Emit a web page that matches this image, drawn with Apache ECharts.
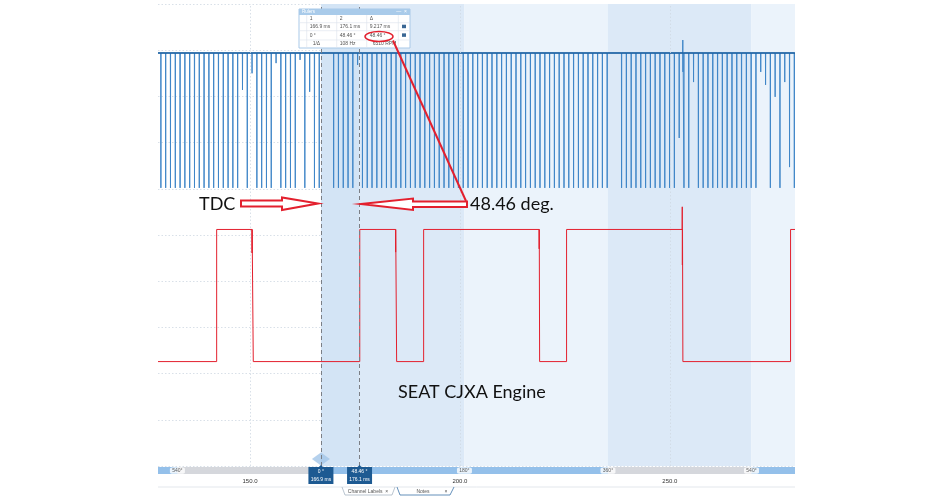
<!DOCTYPE html>
<html>
<head>
<meta charset="utf-8">
<script src="https://cdn.jsdelivr.net/npm/echarts@6/dist/echarts.min.js"></script>
<style>html,body{margin:0;padding:0;background:#fff}#c{width:952px;height:500px}</style>
</head>
<body>
<div id="c"></div>
<script>
// ---- data ----
const timeTicks = [150, 200, 250];               // ms
const crankBase = 8.94, crankLow = 6.02;          // blue trace levels (grid units)
const crankTeeth = [128.79,129.93,131.07,132.22,133.36,134.50,135.65,136.79,137.93,139.07,140.22,141.36,142.50,143.65,144.79,145.93,147.07,148.22,149.36,150.50,151.65,152.79,153.93,155.07,156.22,157.36,158.50,159.65,160.79,161.93,163.07,164.22,165.36,166.50,
169.93,171.07,172.22,173.36,174.50,175.64,176.79,177.93,179.07,180.22,181.36,182.50,183.64,184.79,185.93,187.07,188.22,189.36,190.50,191.64,192.79,193.93,195.07,196.22,197.36,198.50,199.64,200.79,201.93,203.07,204.22,205.36,206.50,207.64,208.79,209.93,211.07,212.22,213.36,214.50,215.64,216.79,217.93,219.07,220.22,221.36,222.50,223.64,224.79,225.93,227.07,228.22,229.36,230.50,231.64,232.79,233.93,235.07,
238.50,239.64,240.79,241.93,243.07,244.22,245.36,246.50,247.64,248.79,249.93,251.07,252.22,253.36,254.50,255.64,256.79,257.93,259.07,260.22,261.36,262.50,263.64,264.79,265.93,267.07,268.22,269.36,270.50,271.64,272.79,273.93,275.07,276.22,277.36,278.50,279.64];
const crankShort = [[148.22,8.14],[150.50,8.5],[156.22,8.72],[161.93,8.79],[164.22,8.1],[175.64,8.68],[252.22,7.1],[255.64,8.31],[271.64,8.53],[272.79,8.25],[275.07,7.99],[277.36,8.31],[278.50,6.47]];
const crankGlitch = [[253.05,8.94],[253.08,9.22],[253.12,8.53],[253.15,8.94]];
const camSignal = [[128.1,2.26],[142.07,2.26],[142.07,5.12],[150.48,5.12],[150.5,4.61],[150.52,5.12],[150.79,5.12],[150.79,2.26],
[176.15,2.26],[176.15,5.12],[184.67,5.12],[184.69,4.63],[184.71,5.12],[184.93,5.12],[184.93,2.26],[191.36,2.26],[191.36,5.12],
[218.86,5.12],[218.88,4.7],[218.9,5.12],[218.98,5.12],[218.98,2.26],[225.40,2.26],[225.40,5.12],
[252.92,5.12],[252.95,5.61],[252.98,4.35],[253.01,5.12],[253.10,5.12],[253.10,2.26],[278.74,2.26],[278.74,5.12],[279.8,5.12]];
const cursorTimes = [166.9, 176.1];
const cursorAngles = ['0 °', '48.46 °'];
const cursorLabels = ['166.9 ms', '176.1 ms'];
const angleTimes = [132.72, 201.08, 235.26, 269.44];
const angleLabels = ['540°', '180°', '360°', '540°'];
const rulerHeader = ['1', '2', 'Δ'];
const rulerTimes = ['166.9 ms', '176.1 ms', '9.217 ms'];
const rulerAngles = ['0 °', '48.46 °', '48.46 °'];
const rulerFreq = ['1/Δ', '108 Hz', '6510 RPM'];
const xMin = 128.1, xMax = 279.8;

// ---- build trace data ----
const shortMap = {};
crankShort.forEach(p => { shortMap[p[0].toFixed(2)] = p[1]; });
let crank = [];
crankTeeth.forEach(t => {
  const low = shortMap[t.toFixed(2)] !== undefined ? shortMap[t.toFixed(2)] : crankLow;
  crank.push([t - 0.03, crankBase], [t, low], [t + 0.03, crankBase]);
});
crank = crank.concat(crankGlitch);
crank.sort((a, b) => a[0] - b[0]);
crank.unshift([xMin, crankBase]);
crank.push([xMax, crankBase]);

const chart = echarts.init(document.getElementById('c'));
const RED = '#e3202e';
const smallFont = 'Liberation Sans';

const bandColors = ['#d3e4f5', '#dce9f7', '#ebf3fb', '#dce9f7', '#ebf3fb'];
const bandEdges = [cursorTimes[0], cursorTimes[1], angleTimes[1], angleTimes[2], angleTimes[3], xMax];
const bands = [];
for (let i = 0; i < bandEdges.length - 1; i++) {
  bands.push([{ xAxis: bandEdges[i], itemStyle: { color: bandColors[i] } }, { xAxis: bandEdges[i + 1] }]);
}

const barSegs = [[xMin, angleTimes[0]], [cursorTimes[0], angleTimes[2]], [angleTimes[3], xMax]];

// ruler table graphic
const bx = 299, by = 9;
const colX = [bx, bx + 7.7, bx + 37.7, bx + 67.7, bx + 99.3, bx + 111];
const rowY = [by, by + 6, by + 13.7, by + 21.7, by + 31, by + 39];
const tbl = [];
tbl.push({ type: 'rect', shape: { x: bx, y: by, width: 111, height: 39 }, style: { fill: '#fff', stroke: '#a9c9e8', lineWidth: 1 } });
tbl.push({ type: 'rect', shape: { x: bx, y: by, width: 111, height: 6 }, style: { fill: '#a9cbea' } });
tbl.push({ type: 'text', style: { text: 'Rulers', x: bx + 3, y: by + 3, font: '4.5px ' + smallFont, fill: '#fff', textVerticalAlign: 'middle' } });
tbl.push({ type: 'text', style: { text: '—  ×', x: bx + 108, y: by + 3, font: '5px ' + smallFont, fill: '#fff', textAlign: 'right', textVerticalAlign: 'middle' } });
for (let r = 2; r < rowY.length - 1; r++) tbl.push({ type: 'line', shape: { x1: bx, y1: rowY[r], x2: bx + 111, y2: rowY[r] }, style: { stroke: '#dbe3ec', lineWidth: 0.6 } });
for (let c = 1; c < colX.length - 1; c++) tbl.push({ type: 'line', shape: { x1: colX[c], y1: rowY[1], x2: colX[c], y2: rowY[5] }, style: { stroke: '#dbe3ec', lineWidth: 0.6 } });
const rows = [rulerHeader, rulerTimes, rulerAngles, rulerFreq];
rows.forEach((row, r) => {
  row.forEach((txt, c) => {
    tbl.push({ type: 'text', style: { text: txt, x: colX[c + 1] + (r === 3 && c !== 1 ? 6 : 3), y: (rowY[r + 1] + rowY[r + 2]) / 2, font: '5px ' + smallFont, fill: '#555', textVerticalAlign: 'middle' } });
  });
});
[1, 2].forEach(r => tbl.push({ type: 'rect', shape: { x: bx + 103, y: (rowY[r + 1] + rowY[r + 2]) / 2 - 2, width: 4, height: 3.5 }, style: { fill: '#3a6794' } }));

const graphics = [
  { type: 'line', z: 90, shape: { x1: 158, y1: 487, x2: 795, y2: 487 }, style: { stroke: '#e3e7ec', lineWidth: 1 } },
  { type: 'polyline', z: 91, shape: { points: [[342, 487], [345, 495], [392, 495], [395, 487]] }, style: { stroke: '#a8b6c4', fill: null, lineWidth: 0.8 } },
  { type: 'text', z: 92, style: { text: 'Channel Labels  ×', x: 368, y: 491.5, font: '5px ' + smallFont, fill: '#555', textAlign: 'center', textVerticalAlign: 'middle' } },
  { type: 'polyline', z: 91, shape: { points: [[397, 487], [400, 495], [450, 495], [454, 487]] }, style: { stroke: '#3c74a8', fill: null, lineWidth: 0.8 } },
  { type: 'text', z: 92, style: { text: 'Notes', x: 423, y: 491.5, font: '5px ' + smallFont, fill: '#555', textAlign: 'center', textVerticalAlign: 'middle' } },
  { type: 'text', z: 92, style: { text: '×', x: 446, y: 491.5, font: '5px ' + smallFont, fill: '#555', textAlign: 'center', textVerticalAlign: 'middle' } },
  { type: 'group', z: 100, children: tbl.map(e => Object.assign({ z: 100 }, e)) },
  { type: 'ellipse', z: 110, shape: { cx: 379, cy: 36.5, rx: 14, ry: 5 }, style: { fill: null, stroke: RED, lineWidth: 1.5 } },
  { type: 'line', z: 110, shape: { x1: 393, y1: 40.5, x2: 466, y2: 201 }, style: { stroke: RED, lineWidth: 2 } },
  { type: 'polygon', z: 110, shape: { points: [[241, 200.5], [282, 200.5], [282, 197.5], [318, 203.5], [282, 210], [282, 206.5], [241, 206.5]] }, style: { fill: '#fff', stroke: RED, lineWidth: 2 } },
  { type: 'polygon', z: 110, shape: { points: [[361, 204], [413, 198.5], [413, 201.5], [467, 201.5], [467, 207], [413, 207], [413, 210]] }, style: { fill: '#fff', stroke: RED, lineWidth: 2 } },
  { type: 'text', z: 111, style: { text: 'TDC', x: 199, y: 204, font: '18px Lato', fill: '#111', textVerticalAlign: 'middle' } },
  { type: 'text', z: 111, style: { text: '48.46 deg.', x: 470, y: 204, font: '18px Lato', fill: '#111', textVerticalAlign: 'middle' } },
  { type: 'text', z: 111, style: { text: 'SEAT CJXA Engine', x: 398, y: 392, font: '18px Lato', fill: '#111', textVerticalAlign: 'middle' } }
];

const option = {
  animation: false,
  backgroundColor: '#fff',
  grid: [
    { left: 158, right: 157, top: 4, bottom: 34 },
    { left: 158, right: 157, top: 467, height: 7, show: true, backgroundColor: '#d5d7dc', borderWidth: 0 }
  ],
  xAxis: [
    { gridIndex: 0, type: 'value', min: xMin, max: xMax, axisLine: { show: false }, axisTick: { show: false }, axisLabel: { show: false }, splitLine: { show: false } },
    { gridIndex: 1, type: 'value', min: xMin, max: xMax, axisLine: { show: false }, axisTick: { show: false }, splitLine: { show: false },
      axisLabel: { customValues: timeTicks, formatter: v => v.toFixed(1), fontSize: 6, color: '#333', margin: 4, fontFamily: smallFont } }
  ],
  yAxis: [
    { gridIndex: 0, type: 'value', min: 0, max: 10, interval: 1, axisLine: { show: false }, axisTick: { show: false }, axisLabel: { show: false },
      splitLine: { lineStyle: { color: '#cfd8e2', type: [1.5, 2], width: 0.8 } } },
    { gridIndex: 1, type: 'value', min: 0, max: 1, show: false }
  ],
  series: [
    { type: 'line', xAxisIndex: 0, yAxisIndex: 0, data: [], silent: true, z: -1,
      markArea: { silent: true, data: bands },
      markLine: { silent: true, symbol: 'none', label: { show: false }, lineStyle: { color: '#cfd8e2', type: [1.5, 2], width: 0.8 }, data: timeTicks.map(t => ({ xAxis: t })) } },
    { name: 'crank', type: 'line', xAxisIndex: 0, yAxisIndex: 0, data: crank, showSymbol: false, symbol: 'none', lineStyle: { color: '#3f86c8', width: 1 }, z: 3 },
    { name: 'crankBaseline', type: 'line', xAxisIndex: 0, yAxisIndex: 0, data: [[xMin, crankBase], [xMax, crankBase]], showSymbol: false, symbol: 'none', lineStyle: { color: '#1b5f9f', width: 1.6 }, z: 3 },
    { name: 'cam', type: 'line', xAxisIndex: 0, yAxisIndex: 0, data: camSignal, showSymbol: false, symbol: 'none', lineStyle: { color: RED, width: 1 }, z: 3 },
    { type: 'line', xAxisIndex: 0, yAxisIndex: 0, data: [], silent: true, z: 5,
      markLine: { silent: true, symbol: 'none', label: { show: false }, lineStyle: { color: '#7b7f86', type: [4, 3], width: 1 }, data: cursorTimes.map(t => ({ xAxis: t })) } },
    { type: 'scatter', xAxisIndex: 0, yAxisIndex: 0, data: [[cursorTimes[0], 0.15]], symbol: 'diamond', symbolSize: [18, 13], itemStyle: { color: '#a3c6e9' }, silent: true, z: 4 },
    { type: 'line', xAxisIndex: 1, yAxisIndex: 1, data: [], silent: true,
      markArea: { silent: true, itemStyle: { color: '#94c0ea' }, data: barSegs.map(s => [{ xAxis: s[0] }, { xAxis: s[1] }]) } },
    { type: 'scatter', xAxisIndex: 1, yAxisIndex: 1, data: angleTimes.map((t, i) => [t, 0.5, angleLabels[i]]), symbol: 'roundRect', symbolSize: [15, 6.5],
      itemStyle: { color: '#fff' }, silent: true, z: 6,
      label: { show: true, position: 'inside', formatter: p => p.data[2], fontSize: 5, color: '#333', fontFamily: smallFont } }
  ],
  graphic: graphics
};
chart.setOption(option);

// cursor boxes positioned through the x scale
const boxes = [];
cursorTimes.forEach((t, i) => {
  const px = chart.convertToPixel({ xAxisIndex: 1 }, t);
  boxes.push({ type: 'polygon', z: 120, shape: { points: [[px - 12.5, 467], [px - 2, 467], [px, 465], [px + 2, 467], [px + 12.5, 467], [px + 12.5, 484], [px - 12.5, 484]] }, style: { fill: '#1d5a92' } });
  boxes.push({ type: 'text', z: 121, style: { text: cursorAngles[i], x: px, y: 471.5, font: '5px ' + smallFont, fill: '#fff', textAlign: 'center', textVerticalAlign: 'middle' } });
  boxes.push({ type: 'text', z: 121, style: { text: cursorLabels[i], x: px, y: 479.5, font: '5px ' + smallFont, fill: '#fff', textAlign: 'center', textVerticalAlign: 'middle' } });
});
chart.setOption({ graphic: graphics.concat(boxes) });
</script>
</body>
</html>
